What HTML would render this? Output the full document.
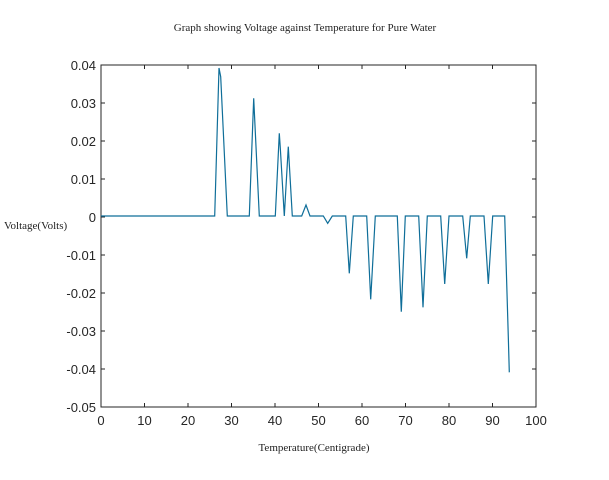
<!DOCTYPE html>
<html><head><style>body{margin:0;background:#fff}</style></head><body>
<svg width="609" height="475" xmlns="http://www.w3.org/2000/svg">
<rect width="609" height="475" fill="#fff"/>
<text x="305" y="31" font-family="Liberation Serif, serif" font-size="11" text-anchor="middle" fill="#222">Graph showing Voltage against Temperature for Pure Water</text>
<text x="4" y="229" font-family="Liberation Serif, serif" font-size="11" fill="#222">Voltage(Volts)</text>
<text x="314" y="451" font-family="Liberation Serif, serif" font-size="11" text-anchor="middle" fill="#222">Temperature(Centigrade)</text>
<rect x="101" y="65" width="435" height="342" fill="none" stroke="#262626" stroke-width="1"/>
<g stroke="#262626" stroke-width="1">
<path d="M101,407v-4M144.5,407v-4M188,407v-4M231.5,407v-4M275,407v-4M318.5,407v-4M362,407v-4M405.5,407v-4M449,407v-4M492.5,407v-4M536,407v-4
M101,65v4M144.5,65v4M188,65v4M231.5,65v4M275,65v4M318.5,65v4M362,65v4M405.5,65v4M449,65v4M492.5,65v4M536,65v4
M101,65h4M101,103h4M101,141h4M101,179h4M101,217h4M101,255h4M101,293h4M101,331h4M101,369h4M101,407h4
M536,65h-4M536,103h-4M536,141h-4M536,179h-4M536,217h-4M536,255h-4M536,293h-4M536,331h-4M536,369h-4M536,407h-4"/>
</g>
<g font-family="Liberation Sans, sans-serif" font-size="13" fill="#262626" text-anchor="middle">
<text x="101" y="425">0</text><text x="144.5" y="425">10</text><text x="188" y="425">20</text><text x="231.5" y="425">30</text><text x="275" y="425">40</text><text x="318.5" y="425">50</text><text x="362" y="425">60</text><text x="405.5" y="425">70</text><text x="449" y="425">80</text><text x="492.5" y="425">90</text><text x="536" y="425">100</text>
</g>
<g font-family="Liberation Sans, sans-serif" font-size="13" fill="#262626" text-anchor="end">
<text x="96" y="70">0.04</text><text x="96" y="108">0.03</text><text x="96" y="146">0.02</text><text x="96" y="184">0.01</text><text x="96" y="222">0</text><text x="96" y="260">-0.01</text><text x="96" y="298">-0.02</text><text x="96" y="336">-0.03</text><text x="96" y="374">-0.04</text><text x="96" y="412">-0.05</text>
</g>
<polyline fill="none" stroke="#0f6e99" stroke-width="1.2" points="101,216 214.7,216 219,68 220.7,76.7 227.3,216 249.3,216 253.7,98.3 259.3,216 275.3,216 279.3,133.3 280.3,148 284.3,216 288.3,146.7 292.3,216 301.7,216 306,205 310,216 323.3,216 327.7,223.3 332.3,216 345.7,216 349.3,273.3 353.3,216 366.7,216 370.7,299.3 375.3,216 397.3,216 401.3,311.7 405.3,216 418.7,216 423,307.3 427.3,216 440.7,216 444.7,284 449,216 462.7,216 466.7,258.3 470.3,216 484,216 488.3,284 492.7,216 504.7,216 508.3,336.7 509.3,372.3"/>
</svg>
</body></html>
